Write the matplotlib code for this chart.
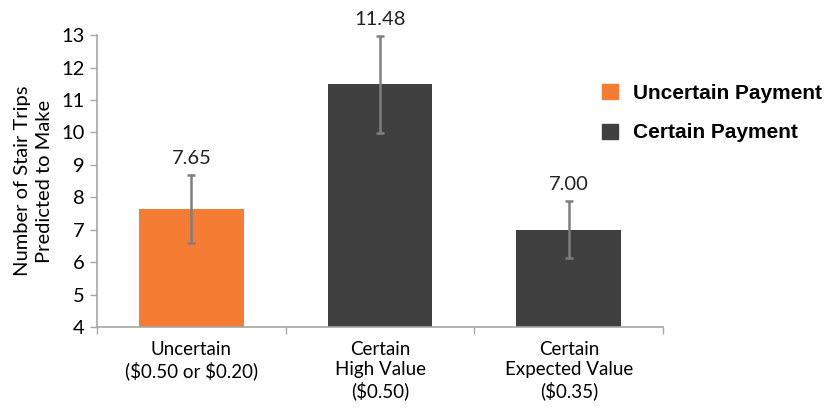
import matplotlib.pyplot as plt
from matplotlib.patches import Patch

categories = ['Uncertain\n(\\$0.50 or \\$0.20)', 'Certain\nHigh Value\n(\\$0.50)', 'Certain\nExpected Value\n(\\$0.35)']
values = [7.65, 11.48, 7.00]
errors = [1.05, 1.5, 0.88]
value_labels = ['7.65', '11.48', '7.00']
legend_labels = ['Uncertain Payment', 'Certain Payment']

orange = '#F47D33'
dark = '#404040'
colors = [orange, dark, dark]

plt.rcParams['font.family'] = ['Lato', 'DejaVu Sans']

fig = plt.figure(figsize=(8.29, 4.13), dpi=100)
ax = fig.add_axes([0.117, 0.208, 0.683, 0.707])

x = range(len(values))
ax.bar(x, [v - 4 for v in values], bottom=4, width=0.555, color=colors,
       yerr=errors, ecolor='#7f7f7f', capsize=3, error_kw={'elinewidth': 1.8, 'capthick': 1.8})

for i, v in enumerate(values):
    ax.text(i, v + errors[i] + 0.25, value_labels[i], ha='center', va='bottom', fontsize=14.5, color='#222222')

ax.set_xlim(-0.5, 2.5)
ax.set_ylim(4, 13)
ax.set_yticks(range(4, 14))
ax.set_xticks(list(x))
ax.set_xticklabels(categories, fontsize=13.5, linespacing=1.22)
ax.set_xticks([-0.5, 0.5, 1.5, 2.5], minor=True)
ax.tick_params(axis='x', which='major', length=0, pad=10)
ax.tick_params(axis='x', which='minor', length=5, color='#a6a6a6', width=1)
ax.tick_params(axis='y', length=5, color='#a6a6a6', width=1, labelsize=14.5, pad=4)

for s in ['top', 'right']:
    ax.spines[s].set_visible(False)
for s in ['left', 'bottom']:
    ax.spines[s].set_color('#a6a6a6')
    ax.spines[s].set_linewidth(1.2)

ax.set_ylabel('Number of Stair Trips\nPredicted to Make', fontsize=14.5, linespacing=1.35, labelpad=6)

handles = [Patch(color=orange), Patch(color=dark)]
fig.legend(handles, legend_labels, loc='upper left', bbox_to_anchor=(0.704, 0.843),
           frameon=False, handlelength=0.75, handleheight=0.75, handletextpad=0.7,
           labelspacing=1.0, prop={'family': 'Liberation Sans', 'weight': 'bold', 'size': 15})

fig.savefig('out.png')
